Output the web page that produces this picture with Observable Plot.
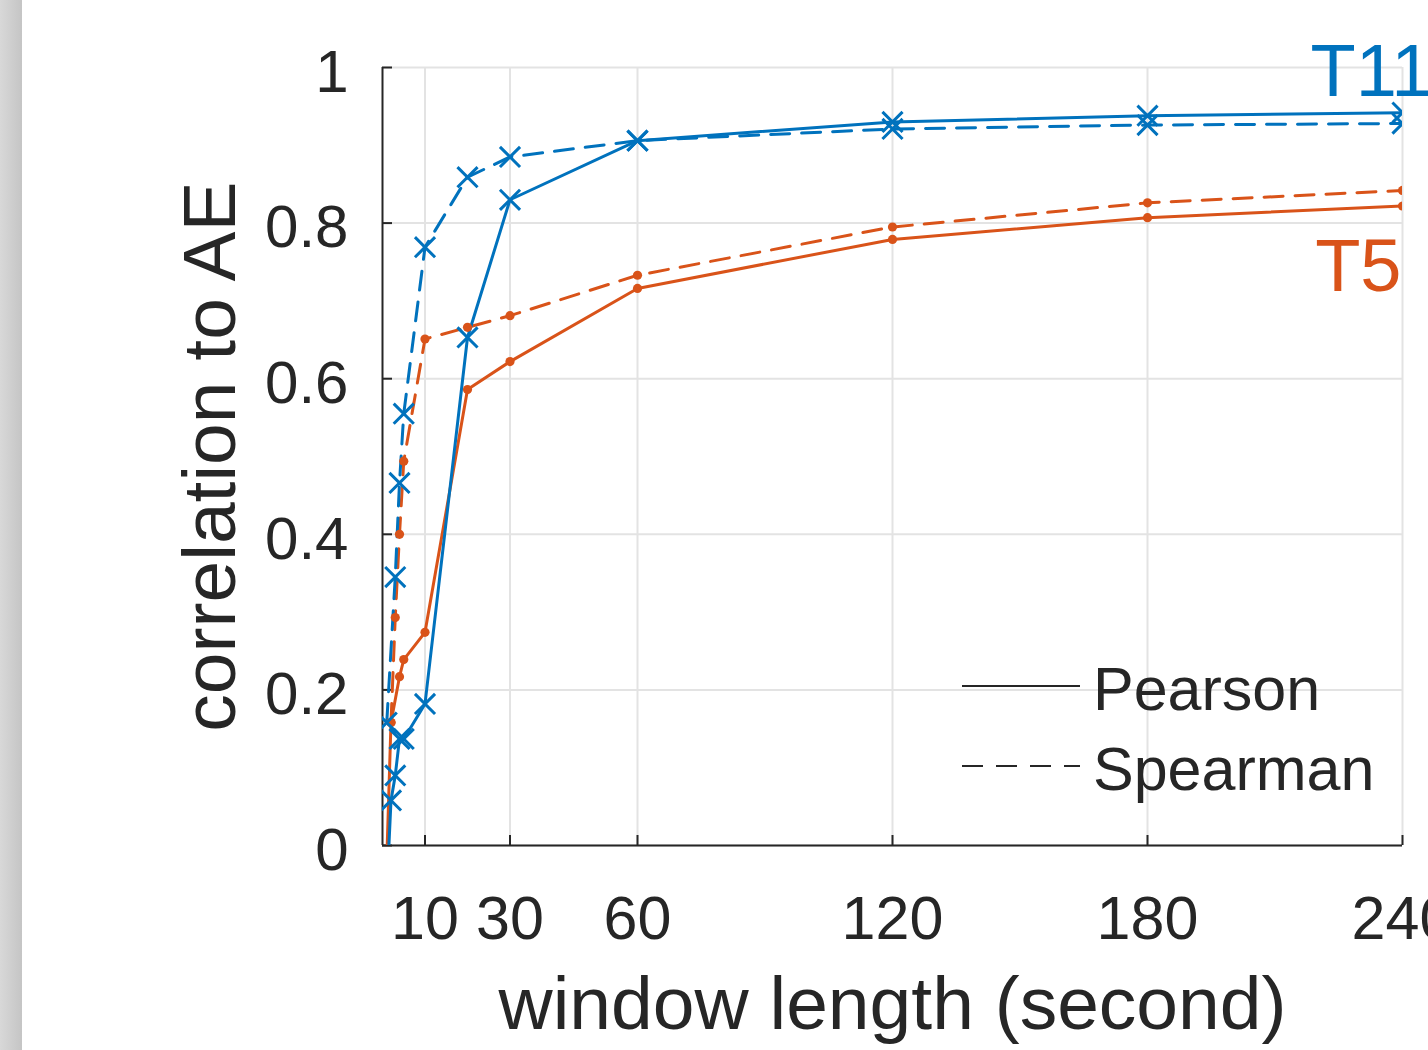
<!DOCTYPE html>
<html>
<head>
<meta charset="utf-8">
<script src="https://cdn.jsdelivr.net/npm/d3@7"></script>
<script src="https://cdn.jsdelivr.net/npm/@observablehq/plot@0.6"></script>
<style>
html, body { margin: 0; padding: 0; background: #fff; }
#wrap { position: relative; width: 1428px; height: 1050px; overflow: hidden; font-family: "Liberation Sans", Arial, sans-serif; }
#wrap > svg { position: absolute; left: 0; top: 0; }
#strip { position: absolute; left: 0; top: 0; width: 22px; height: 1050px; background: linear-gradient(to right, #d8d8d8, #c5c5c5); }
</style>
</head>
<body>
<div id="wrap"><div id="strip"></div></div>
<script>
// ---- data ----
const xTicks = [10, 30, 60, 120, 180, 240];
const yTicks = [0, 0.2, 0.4, 0.6, 0.8, 1];

const windowT11Pearson  = [1, 2, 3, 4, 5, 10, 20, 30, 60, 120, 180, 240];
const corrT11Pearson    = [-0.06, 0.058, 0.09, 0.137, 0.137, 0.182, 0.653, 0.830, 0.906, 0.930, 0.938, 0.942];
const windowT11Spearman = [1, 3, 4, 5, 10, 20, 30, 60, 120, 180, 240];
const corrT11Spearman   = [0.158, 0.345, 0.466, 0.555, 0.769, 0.859, 0.885, 0.906, 0.921, 0.926, 0.928];
const windowT5Pearson   = [1, 2, 4, 5, 10, 20, 30, 60, 120, 180, 240];
const corrT5Pearson     = [-0.02, 0.158, 0.217, 0.239, 0.274, 0.586, 0.622, 0.716, 0.779, 0.807, 0.822];
const windowT5Spearman  = [2, 3, 4, 5, 10, 20, 30, 60, 120, 180, 240];
const corrT5Spearman    = [0.158, 0.293, 0.400, 0.494, 0.651, 0.666, 0.681, 0.733, 0.795, 0.826, 0.842];

const seriesNames = ["T11", "T5"];
const methods = ["Pearson", "Spearman"];
const xLabel = "window length (second)";
const yLabel = "correlation to AE";

// ---- styles ----
const BLUE = "#0072BD", ORANGE = "#D95319", INK = "#262626", GRID = "#e3e3e3";
const FONT = "'Liberation Sans', Arial, sans-serif";
const DASH = "19,12";

const rows = (xs, ys) => xs.map((x, i) => ({x, y: ys[i]}));
const t11P = rows(windowT11Pearson, corrT11Pearson);
const t11S = rows(windowT11Spearman, corrT11Spearman);
const t5P = rows(windowT5Pearson, corrT5Pearson);
const t5S = rows(windowT5Spearman, corrT5Spearman);

const lineOpts = (color, dashed) => ({x: "x", y: "y", stroke: color, strokeWidth: 3, strokeDasharray: dashed ? DASH : null, clip: true});
const crossOpts = {x: "x", y: "y", symbol: "times", r: 9.2, stroke: BLUE, strokeWidth: 3, fill: "none", clip: true};
const dotOpts = {x: "x", y: "y", r: 4.6, fill: ORANGE, stroke: "none", clip: true};

const chart = Plot.plot({
  width: 1428,
  height: 1050,
  marginLeft: 382,
  marginRight: 26,
  marginTop: 67,
  marginBottom: 205,
  style: {background: "transparent", fontFamily: FONT, color: INK, overflow: "visible"},
  x: {domain: [0, 240], label: null},
  y: {domain: [0, 1], label: null},
  marks: [
    Plot.gridX(xTicks, {stroke: GRID, strokeOpacity: 1, strokeWidth: 2}),
    Plot.gridY(yTicks, {stroke: GRID, strokeOpacity: 1, strokeWidth: 2}),
    Plot.ruleX([0], {stroke: INK, strokeWidth: 2}),
    Plot.ruleY([0], {stroke: INK, strokeWidth: 2}),
    // inward tick marks
    Plot.axisY(yTicks, {tickSize: -10, stroke: INK, strokeWidth: 2, tickFormat: () => ""}),
    Plot.axisX(xTicks, {tickSize: -10, stroke: INK, strokeWidth: 2, tickFormat: () => ""}),
    // tick labels
    Plot.axisY(yTicks, {tickSize: 0, tickPadding: 34, fontSize: 60, dy: 5, stroke: "none", fill: INK, tickFormat: d => String(d)}),
    Plot.axisX(xTicks, {tickSize: 0, tickPadding: 50, fontSize: 61, stroke: "none", fill: INK, tickFormat: d => String(d)}),
    Plot.line(t5P, lineOpts(ORANGE, false)),
    Plot.line(t5S, lineOpts(ORANGE, true)),
    Plot.line(t11P, lineOpts(BLUE, false)),
    Plot.line(t11S, lineOpts(BLUE, true)),
    Plot.dot(t5P, dotOpts),
    Plot.dot(t5S, dotOpts),
    Plot.dot(t11P, crossOpts),
    Plot.dot(t11S, crossOpts),
    Plot.text([seriesNames[0]], {text: d => d, frameAnchor: "top-right", textAnchor: "end", lineAnchor: "bottom", dx: 30, dy: 28, fontSize: 74, fill: BLUE}),
    Plot.text([seriesNames[1]], {text: d => d, frameAnchor: "top-right", textAnchor: "end", lineAnchor: "bottom", dx: -1, dy: 223, fontSize: 74, fill: ORANGE}),
    Plot.text([xLabel], {text: d => d, frameAnchor: "bottom", textAnchor: "middle", lineAnchor: "bottom", dy: 183, fontSize: 75, fill: INK}),
    Plot.text([yLabel], {text: d => d, frameAnchor: "left", textAnchor: "middle", lineAnchor: "bottom", rotate: -90, dx: -148, fontSize: 75, fill: INK})
  ]
});
document.getElementById("wrap").insertBefore(chart, document.getElementById("strip"));

// ---- legend (line style key) ----
const legend = d3.select("#wrap").append("svg")
  .attr("width", 1428).attr("height", 1050)
  .style("position", "absolute").style("left", "0px").style("top", "0px").style("pointer-events", "none");
const lg = legend.selectAll("g").data(methods).join("g")
  .attr("transform", (d, i) => `translate(962, ${686 + i * 80})`);
lg.append("line").attr("x1", 0).attr("x2", 118).attr("y1", 0).attr("y2", 0)
  .attr("stroke", INK).attr("stroke-width", 2.2)
  .attr("stroke-dasharray", (d, i) => i === 1 ? "21,13" : null);
lg.append("text").attr("x", 131).attr("y", 24).text(d => d)
  .attr("font-family", FONT).attr("font-size", 61).attr("fill", INK);
</script>
</body>
</html>
